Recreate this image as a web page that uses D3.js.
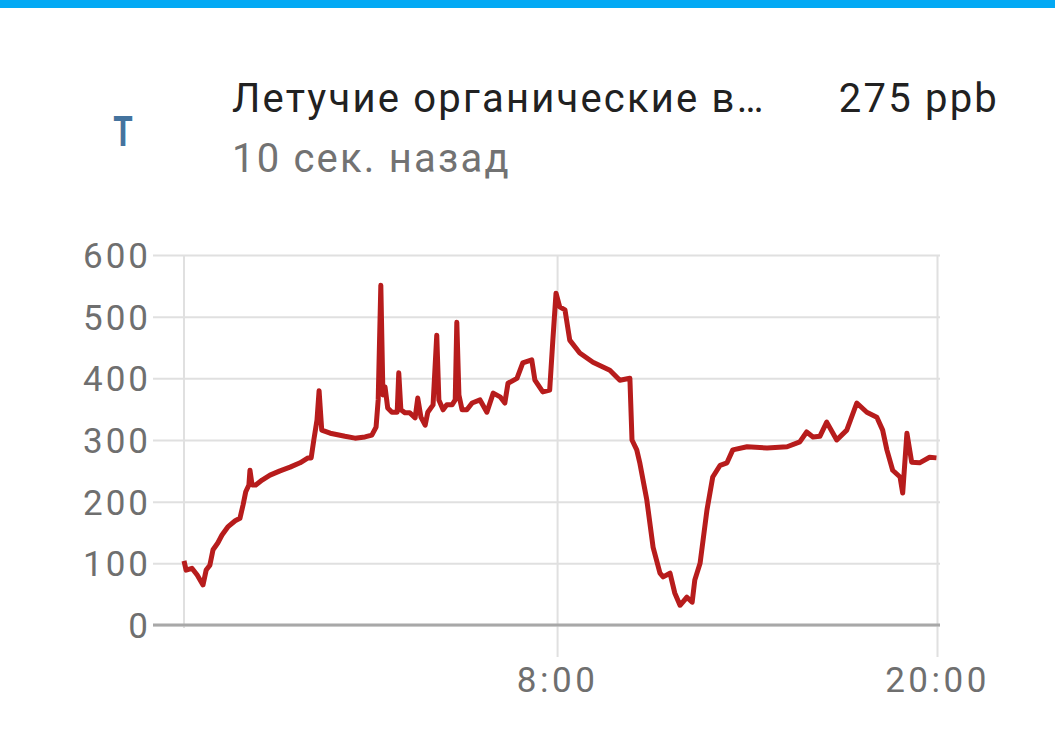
<!DOCTYPE html>
<html><head><meta charset="utf-8">
<script src="https://cdn.jsdelivr.net/npm/d3@7"></script>
<style>
html,body{margin:0;padding:0;background:#fff;}
svg{display:block;font-family:Roboto,"Noto Sans",sans-serif;}
</style></head>
<body>
<svg id="c" width="1055" height="743"></svg>
<script>
const titleText = "Летучие органические в…";
const valueText = "275 ppb";
const subtitleText = "10 сек. назад";
const iconText = "T";

const yTicks = [0, 100, 200, 300, 400, 500, 600];
const xTickLabels = ["8:00", "20:00"];
const xDomain = ["2024-01-01T20:13", "2024-01-02T20:00"];

const times = ["20:13","20:17","20:28","20:38","20:49","20:55","21:02","21:08","21:17","21:25","21:36","21:50","21:59","22:05","22:10","22:16","22:18","22:22","22:29","22:41","22:56","23:15","23:34","23:53",
"00:08","00:14","00:19","00:25","00:29","00:34","00:50","01:18","01:37","01:56","02:09","02:17","02:21","02:26","02:30","02:34","02:39","02:47","02:57","03:00","03:04","03:12","03:21","03:31","03:36","03:42","03:50","03:55","04:05","04:12","04:16","04:24","04:31","04:41","04:47","04:50","04:54","05:00","05:09","05:19","05:34","05:47","05:59","06:12","06:21","06:27","06:44","06:55","07:12","07:18","07:33","07:46","07:52","07:58","08:05","08:15","08:24","08:43","09:08","09:40","09:59","10:18","10:22","10:31","10:37","10:50","11:02","11:15","11:21","11:34","11:43","11:53","12:06","12:16","12:21","12:31","12:44","12:55","13:09","13:22","13:33","14:00","14:38","15:16","15:40","15:53","16:05","16:18","16:31","16:50","17:09","17:28","17:47","18:06","18:17","18:25","18:36","18:50","18:55","18:59","19:03","19:12","19:27","19:46","19:59"];
const values = [104,89,92,81,65,89,97,122,133,146,159,169,173,195,216,227,251,227,227,235,243,250,256,263,
271,271,300,332,380,316,311,306,303,305,308,321,365,551,373,386,352,345,345,409,349,344,344,336,368,337,324,345,357,470,365,349,357,357,365,491,373,349,349,360,365,345,376,370,360,392,400,425,430,397,378,381,462,538,516,511,462,441,426,413,397,400,300,284,262,203,126,84,78,84,52,32,45,37,73,100,186,240,259,263,284,289,287,289,297,313,305,306,329,300,316,360,345,337,316,284,251,240,214,263,311,264,263,272,271];

// build dated series with day rollover
const data = [];
let day = 1, prevH = -1;
times.forEach((t, i) => {
  const h = +t.split(":")[0];
  if (h < prevH) day = 2;
  prevH = h;
  data.push({t: new Date(`2024-01-0${day}T${t}`), v: values[i]});
});

const svg = d3.select("#c");

// top bar
svg.append("rect").attr("x",0).attr("y",0).attr("width",1055).attr("height",8).attr("fill","#03a9f4");

// icon
svg.append("text").attr("x",123).attr("y",146).attr("text-anchor","middle")
  .attr("transform","translate(123,0) scale(0.75,1) translate(-123,0)")
  .attr("font-size",42).attr("font-weight",700).attr("fill","#44739e").text(iconText);

// header
const hdr = {size: 40, ls: "2.2px"};
svg.append("text").attr("x",232).attr("y",112).attr("font-size",hdr.size).attr("fill","#212121").attr("letter-spacing",hdr.ls).text(titleText);
svg.append("text").attr("x",999).attr("y",112).attr("text-anchor","end").attr("font-size",hdr.size).attr("fill","#212121").attr("letter-spacing",hdr.ls).text(valueText);
svg.append("text").attr("x",232).attr("y",172).attr("font-size",hdr.size).attr("fill","#727272").attr("letter-spacing",hdr.ls).text(subtitleText);

const x = d3.scaleTime().domain(xDomain.map(s => new Date(s))).range([184, 937]);
const y = d3.scaleLinear().domain([0, 600]).range([625, 255]);

const gridL = 153, gridR = 940;

// horizontal grid + y labels
const yAxis = d3.axisLeft(y).tickValues(yTicks).tickSize(-(gridR - gridL)).tickPadding(2);
const gy = svg.append("g").attr("transform", `translate(${gridL},0)`).call(yAxis);
gy.select(".domain").remove();
gy.selectAll(".tick line").attr("stroke","#e0e0e0").attr("stroke-width",2);
gy.selectAll(".tick text").attr("font-size",35).attr("fill","#6f6f6f").attr("letter-spacing","3px")
  .attr("font-family","Roboto").attr("dy","0.36em");

// vertical grid lines / x ticks
const xTickDates = xTickLabels.map(l => new Date(`2024-01-02T${l.padStart(5,"0")}`));
const xAxis = d3.axisBottom(x).tickValues(xTickDates).tickSize(-(625 - 255)).tickFormat(d3.timeFormat("%-H:%M")).tickPadding(42);
const gx = svg.append("g").attr("transform","translate(0,625)").call(xAxis);
gx.select(".domain").remove();
gx.selectAll(".tick line").attr("stroke","#e0e0e0").attr("stroke-width",2).attr("y2", -(625-255)).attr("y1", 32);
gx.selectAll(".tick text").attr("font-size",35).attr("fill","#6f6f6f").attr("letter-spacing","3.5px").attr("font-family","Roboto");

// left vertical line
svg.append("line").attr("x1",x(x.domain()[0])).attr("x2",x(x.domain()[0])).attr("y1",255).attr("y2",628).attr("stroke","#e0e0e0").attr("stroke-width",2);

// zero axis line
svg.append("line").attr("x1",gridL).attr("x2",gridR).attr("y1",y(0)).attr("y2",y(0)).attr("stroke","#a8a8a8").attr("stroke-width",3);

// series
const line = d3.line().x(d => x(d.t)).y(d => y(d.v));
svg.append("path").datum(data).attr("d", line).attr("fill","none").attr("stroke","#b71c1c").attr("stroke-width",5).attr("stroke-linejoin","round");
</script>
</body></html>
